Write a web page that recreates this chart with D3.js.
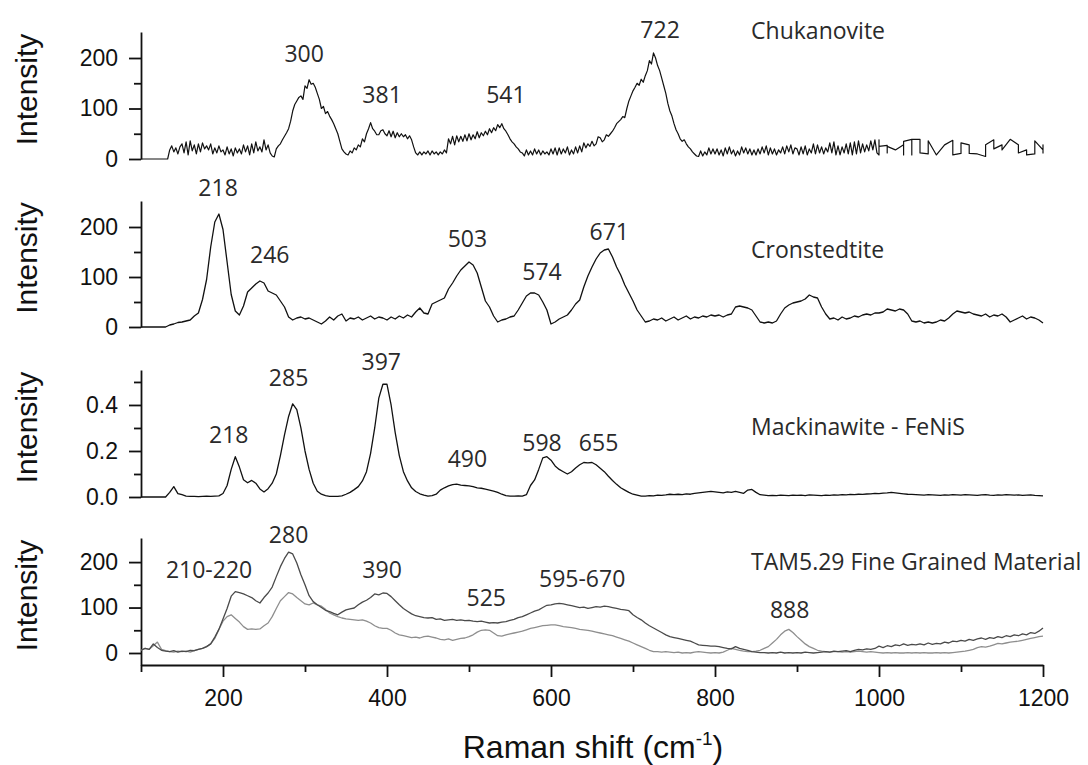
<!DOCTYPE html>
<html>
<head>
<meta charset="utf-8">
<script src="https://cdn.jsdelivr.net/npm/d3@7"></script>
<style>
  body { margin: 0; background: #fff; }
  .tick text { font-family: "Liberation Sans", Arial, sans-serif; }
</style>
</head>
<body>
<svg width="1088" height="765"></svg>
<script>
const shiftStart = 100
const shiftStep = 5
const chukanoviteStep = 2.5

// 20 values per row = 50 cm-1
const chukanovite = [
  0, 0, 0, 0, 0, 0, 0, 0, 0, 0, 0, 0, 0, 0, 18, 26, 14, 22, 10, 24,                 // 100
  30, 12, 34, 8, 36, 16, 28, 10, 30, 14, 32, 20, 26, 18, 30, 10, 22, 12, 26, 14,    // 150
  18, 8, 24, 10, 20, 6, 22, 12, 20, 10, 28, 14, 26, 8, 30, 12, 34, 16, 24, 14,      // 200
  38, 18, 28, 12, 6, 4, 20, 26, 30, 38, 45, 52, 60, 75, 95, 108, 115, 122, 125, 118, // 250
  145, 140, 157, 148, 150, 142, 130, 118, 100, 104, 90, 94, 85, 78, 70, 60, 50, 35, 20, 14, // 300
  10, 8, 16, 12, 22, 18, 28, 24, 40, 34, 50, 60, 72, 60, 55, 48, 48, 56, 58, 50,    // 350
  46, 56, 44, 55, 42, 52, 44, 50, 44, 48, 40, 46, 38, 24, 12, 8, 14, 8, 14, 10,     // 400
  16, 8, 16, 10, 14, 8, 14, 10, 18, 12, 40, 30, 45, 28, 46, 34, 45, 35, 48, 36,     // 450
  50, 38, 48, 40, 54, 42, 52, 46, 55, 48, 60, 52, 62, 56, 68, 62, 70, 60, 55, 48,   // 500
  40, 34, 30, 24, 20, 14, 12, 6, 18, 8, 16, 8, 20, 10, 18, 8, 16, 10, 14, 8,        // 550
  20, 10, 22, 8, 22, 10, 20, 12, 24, 8, 18, 10, 24, 12, 26, 14, 32, 22, 30, 25,     // 600
  35, 26, 30, 44, 42, 34, 38, 48, 45, 50, 55, 62, 70, 74, 78, 84, 82, 100, 115, 125, // 650
  135, 142, 150, 146, 158, 152, 165, 175, 195, 188, 210, 200, 185, 175, 160, 145, 130, 110, 95, 85, // 700
  70, 58, 50, 40, 35, 38, 30, 24, 20, 14, 10, 6, 5, 16, 6, 14, 8, 22, 10, 20,       // 750
  10, 20, 8, 18, 6, 22, 10, 24, 10, 18, 6, 16, 8, 24, 12, 22, 10, 20, 8, 18,        // 800
  8, 20, 10, 24, 12, 26, 8, 22, 10, 20, 8, 18, 12, 24, 10, 26, 14, 28, 10, 22,      // 850
  20, 8, 24, 10, 26, 8, 20, 12, 30, 10, 28, 12, 24, 10, 22, 14, 32, 12, 34, 8,      // 900
  26, 8, 24, 12, 30, 10, 32, 8, 34, 10, 36, 12, 30, 14, 28, 16, 36, 18, 38, 12      // 950
]
// coarse stepped part of the chukanovite trace above 1000 cm-1
const chukanoviteTailShift = [1000, 1000, 1000, 1010, 1010, 1010, 1020, 1030, 1030, 1030, 1040, 1040, 1040, 1050, 1050, 1060, 1060, 1070, 1080, 1090, 1090, 1100, 1100, 1110, 1110, 1120, 1130, 1130, 1140, 1140, 1150, 1150, 1160, 1170, 1170, 1180, 1180, 1190, 1190, 1200, 1200, 1200]
const chukanoviteTailIntensity = [8, 38, 25, 27, 12, 25, 18, 28, 8, 35, 39, 8, 39, 39, 12, 10, 36, 8, 28, 37, 8, 11, 32, 28, 11, 10, 5, 28, 38, 20, 28, 18, 39, 28, 12, 18, 8, 10, 36, 18, 28, 11]

// 10 values per row = 50 cm-1
const cronstedtite = [
  0, 0, 0, 0, 0, 0, 0, 4, 6, 9,               // 100
  10, 12, 14, 22, 28, 55, 95, 160, 210, 226,  // 150
  195, 130, 65, 32, 24, 42, 70, 78, 86, 92,   // 200
  88, 72, 68, 64, 52, 40, 20, 14, 18, 20,     // 250
  16, 18, 14, 10, 6, 12, 20, 14, 22, 26,      // 300
  12, 18, 16, 20, 14, 18, 22, 16, 20, 18,     // 350
  14, 20, 16, 22, 18, 24, 20, 30, 38, 28,     // 400
  26, 46, 50, 54, 58, 76, 88, 102, 114, 122,  // 450
  130, 124, 108, 80, 52, 40, 22, 10, 14, 16,  // 500
  20, 22, 34, 48, 62, 68, 68, 64, 50, 34,     // 550
  6, 10, 16, 20, 24, 34, 46, 54, 80, 102,     // 600
  120, 136, 148, 154, 156, 140, 120, 104, 84, 68, // 650
  52, 34, 22, 10, 12, 16, 14, 18, 12, 16,     // 700
  20, 14, 18, 22, 16, 20, 18, 22, 20, 24,     // 750
  22, 24, 20, 24, 26, 40, 42, 40, 38, 34,     // 800
  22, 10, 8, 10, 8, 12, 26, 38, 44, 48,       // 850
  50, 52, 56, 64, 60, 58, 40, 26, 16, 18,     // 900
  14, 20, 16, 18, 22, 20, 24, 26, 24, 28,     // 950
  28, 30, 36, 34, 32, 36, 34, 26, 12, 10,     // 1000
  12, 8, 10, 8, 10, 14, 12, 18, 26, 32,       // 1050
  30, 28, 30, 26, 24, 22, 26, 20, 24, 22,     // 1100
  26, 20, 10, 14, 18, 22, 16, 20, 18, 14,     // 1150
  8                                           // 1200
]

const mackinawite = [
  0, 0, 0, 0, 0, 0, 0, 0.02, 0.045, 0.015,                       // 100
  0.01, 0.004, 0.003, 0.003, 0.002, 0.003, 0.004, 0.003, 0.004, 0.005, // 150
  0.015, 0.05, 0.12, 0.175, 0.13, 0.075, 0.062, 0.072, 0.06, 0.035,   // 200
  0.022, 0.036, 0.06, 0.1, 0.18, 0.27, 0.35, 0.405, 0.38, 0.3,        // 250
  0.2, 0.12, 0.06, 0.025, 0.012, 0.006, 0.003, 0.003, 0.003, 0.005,   // 300
  0.012, 0.02, 0.032, 0.045, 0.07, 0.11, 0.19, 0.3, 0.43, 0.49,       // 350
  0.49, 0.4, 0.28, 0.18, 0.11, 0.07, 0.04, 0.024, 0.014, 0.008,       // 400
  0.004, 0.006, 0.012, 0.03, 0.04, 0.048, 0.054, 0.056, 0.052, 0.05,  // 450
  0.048, 0.045, 0.04, 0.038, 0.034, 0.03, 0.026, 0.02, 0.012, 0.006,  // 500
  0.004, 0.004, 0.005, 0.004, 0.01, 0.05, 0.074, 0.12, 0.17, 0.175,   // 550
  0.16, 0.135, 0.12, 0.11, 0.1, 0.11, 0.126, 0.14, 0.15, 0.148,       // 600
  0.15, 0.14, 0.125, 0.11, 0.09, 0.072, 0.055, 0.04, 0.03, 0.02,      // 650
  0.012, 0.008, 0.004, 0.004, 0.006, 0.005, 0.008, 0.007, 0.009, 0.012, // 700
  0.01, 0.012, 0.01, 0.014, 0.012, 0.016, 0.018, 0.02, 0.022, 0.024,  // 750
  0.022, 0.02, 0.018, 0.022, 0.02, 0.024, 0.02, 0.016, 0.03, 0.033,   // 800
  0.02, 0.01, 0.008, 0.006, 0.007, 0.006, 0.008, 0.007, 0.006, 0.008, // 850
  0.007, 0.008, 0.006, 0.009, 0.008, 0.007, 0.006, 0.008, 0.007, 0.009, // 900
  0.008, 0.01, 0.009, 0.011, 0.01, 0.012, 0.011, 0.013, 0.014, 0.016, // 950
  0.015, 0.017, 0.018, 0.02, 0.018, 0.016, 0.014, 0.012, 0.011, 0.01, // 1000
  0.009, 0.008, 0.01, 0.009, 0.008, 0.007, 0.009, 0.008, 0.01, 0.009, // 1050
  0.008, 0.01, 0.009, 0.008, 0.007, 0.009, 0.01, 0.008, 0.007, 0.009, // 1100
  0.008, 0.01, 0.009, 0.008, 0.009, 0.007, 0.008, 0.009, 0.007, 0.006, // 1150
  0.005                                                               // 1200
]

// TAM5.29, two spots (dark and light trace)
const tamDark = [
  6, 10, 8, 20, 12, 6, 4, 3, 5, 2,            // 100
  4, 3, 6, 5, 8, 10, 14, 20, 35, 52,          // 150
  75, 98, 125, 135, 133, 130, 126, 122, 115, 110, // 200
  122, 132, 145, 168, 190, 208, 222, 218, 198, 172, // 250
  150, 126, 113, 106, 100, 94, 91, 87, 84, 90, // 300
  95, 97, 99, 106, 112, 116, 122, 130, 128, 132, // 350
  131, 124, 115, 106, 98, 92, 86, 82, 80, 78, // 400
  77, 78, 74, 75, 72, 73, 74, 72, 73, 71,     // 450
  72, 70, 69, 70, 68, 66, 67, 66, 68, 69,     // 500
  72, 74, 78, 80, 84, 88, 92, 95, 100, 105,   // 550
  106, 108, 109, 108, 106, 104, 102, 100, 101, 98, // 600
  100, 102, 101, 103, 102, 100, 98, 96, 95, 93, // 650
  84, 78, 73, 66, 60, 55, 50, 45, 40, 36,     // 700
  34, 32, 30, 28, 26, 22, 18, 17, 16, 15,     // 750
  15, 14, 12, 10, 9, 14, 10, 8, 6, 3,         // 800
  2, 1, 1, 0, 1, 0, 2, 0, 1, 0,               // 850
  1, 0, 2, 1, 0, 1, 2, 3, 2, 4,               // 900
  3, 4, 5, 3, 6, 8, 7, 9, 8, 10,              // 950
  15, 12, 16, 14, 18, 16, 20, 17, 19, 18,     // 1000
  20, 18, 22, 19, 21, 20, 24, 22, 26, 25,     // 1050
  28, 26, 30, 28, 31, 33, 30, 34, 32, 36,     // 1100
  34, 38, 36, 40, 38, 42, 40, 45, 43, 48,     // 1150
  55                                          // 1200
]
const tamLight = [
  6, 10, 8, 16, 24, 8, 5, 3, 2, 4,            // 100
  3, 4, 2, 5, 8, 10, 14, 20, 32, 52,          // 150
  70, 80, 84, 76, 68, 58, 52, 53, 52, 53,     // 200
  60, 66, 80, 98, 115, 124, 133, 130, 122, 115, // 250
  108, 106, 110, 106, 103, 96, 88, 84, 80, 77, // 300
  75, 74, 73, 72, 73, 70, 66, 60, 56, 54,     // 350
  54, 50, 44, 40, 38, 36, 34, 35, 33, 36,     // 400
  37, 35, 33, 30, 29, 31, 28, 30, 32, 33,     // 450
  36, 40, 46, 50, 51, 50, 44, 38, 37, 40,     // 500
  42, 44, 46, 48, 51, 54, 56, 58, 60, 61,     // 550
  62, 62, 60, 58, 57, 56, 54, 52, 51, 50,     // 600
  48, 46, 44, 42, 40, 38, 35, 32, 29, 26,     // 650
  22, 18, 14, 10, 6, 3, 3, 2, 3, 2,           // 700
  1, 2, 0, 1, 0, 2, 3, 2, 1, 0,               // 750
  1, 0, 2, 6, 10, 8, 6, 4, 3, 3,              // 800
  4, 6, 10, 14, 22, 30, 40, 48, 52, 45,       // 850
  36, 28, 20, 14, 10, 6, 4, 3, 2, 3,          // 900
  3, 2, 3, 2, 3, 4, 3, 2, 3, 2,               // 950
  1, 0, 1, 0, 1, 0, 0, 1, 0, 1,               // 1000
  0, 1, 0, 0, 1, 0, 1, 0, 1, 2,               // 1050
  3, 4, 6, 8, 12, 14, 13, 15, 18, 21,         // 1100
  20, 22, 24, 25, 26, 28, 30, 32, 34, 36,     // 1150
  37                                          // 1200
]

const panelNames = ["Chukanovite", "Cronstedtite", "Mackinawite - FeNiS", "TAM5.29 Fine Grained Material"]
const nameShift = 844
const nameIntensity = [238, 138, 0.27, 182]

// peak annotations: [text, shift, intensity at text baseline]
const chukanovitePeaks = [["300", 299, 192], ["381", 394, 111], ["541", 545, 111], ["722", 733, 240]]
const cronstedtitePeaks = [["218", 194, 262], ["246", 257, 128], ["503", 498, 160], ["574", 589, 94], ["671", 671, 174]]
const mackinawitePeaks = [["218", 207, 0.235], ["285", 280, 0.483], ["397", 393, 0.552], ["490", 498, 0.13], ["598", 589, 0.2], ["655", 658, 0.2]]
const tamPeaks = [["210-220", 183, 165], ["280", 280, 242], ["390", 394, 165], ["525", 521, 103], ["595-670", 638, 145], ["888", 891, 77]]

const xMajorTicks = [200, 400, 600, 800, 1000, 1200]
const xMinorTicks = [100, 300, 500, 700, 900, 1100]

const onGrid = (values, step) => values.map((v, i) => [shiftStart + i * step, v])

const chukanovitePoints = onGrid(chukanovite, chukanoviteStep)
  .concat(chukanoviteTailShift.map((s, i) => [s, chukanoviteTailIntensity[i]]))

const panels = [
  { series: [{ points: chukanovitePoints, color: '#111', width: 1.2 }], domain: [0, 251.5], range: [159, 32],
    major: [0, 100, 200], minor: [50, 150], fmt: d3.format('d'), peaks: chukanovitePeaks },
  { series: [{ points: onGrid(cronstedtite, shiftStep), color: '#111', width: 1.3 }], domain: [0, 252], range: [327, 201],
    major: [0, 100, 200], minor: [50, 150], fmt: d3.format('d'), peaks: cronstedtitePeaks },
  { series: [{ points: onGrid(mackinawite, shiftStep), color: '#111', width: 1.3 }], domain: [0, 0.552], range: [497, 370],
    major: [0, 0.2, 0.4], minor: [0.1, 0.3, 0.5], fmt: d3.format('.1f'), peaks: mackinawitePeaks },
  { series: [{ points: onGrid(tamLight, shiftStep), color: '#8e8e8e', width: 1.3 },
             { points: onGrid(tamDark, shiftStep), color: '#4a4a4a', width: 1.3 }],
    domain: [-26.4, 253], range: [665, 538],
    major: [0, 100, 200], minor: [50, 150], fmt: d3.format('d'), peaks: tamPeaks }
]

const svg = d3.select('svg')
const x = d3.scaleLinear().domain([100, 1200]).range([141, 1043])
const axisLeftX = 141
const labelFont = '"Open Sans", "Noto Sans", sans-serif'

panels.forEach((p, k) => {
  const y = d3.scaleLinear().domain(p.domain).range(p.range)
  const g = svg.append('g')

  // minor ticks first, then labelled major ticks with the axis line
  g.append('g')
    .attr('transform', `translate(${axisLeftX},0)`)
    .call(d3.axisLeft(y).tickValues(p.minor).tickSize(7).tickFormat(''))
    .call(a => a.select('.domain').remove())
  g.append('g')
    .attr('transform', `translate(${axisLeftX},0)`)
    .call(d3.axisLeft(y).tickValues(p.major).tickSize(12).tickSizeOuter(0).tickPadding(11).tickFormat(p.fmt))
    .call(a => a.selectAll('text').attr('font-size', 23).attr('fill', '#111'))

  g.selectAll('.tick line, .domain').attr('stroke', '#111').attr('stroke-width', 1.8)

  g.append('text')
    .attr('transform', `translate(37,${(p.range[0] + p.range[1]) / 2 - 6}) rotate(-90)`)
    .attr('text-anchor', 'middle')
    .attr('font-family', '"Liberation Sans", Arial, sans-serif')
    .attr('font-size', 30)
    .attr('fill', '#111')
    .text('Intensity')

  const line = d3.line().x(d => x(d[0])).y(d => y(d[1]))
  p.series.forEach(s => {
    g.append('path')
      .datum(s.points)
      .attr('d', line)
      .attr('fill', 'none')
      .attr('stroke', s.color)
      .attr('stroke-width', s.width)
      .attr('stroke-linejoin', 'round')
  })

  g.selectAll('.peak')
    .data(p.peaks)
    .enter()
    .append('text')
    .attr('x', d => x(d[1]))
    .attr('y', d => y(d[2]))
    .attr('text-anchor', 'middle')
    .attr('font-family', labelFont)
    .attr('font-size', 23)
    .attr('fill', '#2a2a2a')
    .text(d => d[0])

  g.append('text')
    .attr('x', x(nameShift))
    .attr('y', y(nameIntensity[k]))
    .attr('font-family', labelFont)
    .attr('font-size', 23)
    .attr('fill', '#2a2a2a')
    .text(panelNames[k])
})

// shared Raman shift axis under the last panel
const axisY = 665
svg.append('g')
  .attr('transform', `translate(0,${axisY})`)
  .call(d3.axisBottom(x).tickValues(xMinorTicks).tickSize(7).tickFormat(''))
  .call(a => a.select('.domain').remove())
svg.append('g')
  .attr('transform', `translate(0,${axisY})`)
  .call(d3.axisBottom(x).tickValues(xMajorTicks).tickSize(12).tickSizeOuter(0).tickPadding(13).tickFormat(d3.format('d')))
  .call(a => a.selectAll('text').attr('font-size', 23).attr('fill', '#111'))
svg.selectAll('.tick line, .domain').attr('stroke', '#111').attr('stroke-width', 1.8)

const title = svg.append('text')
  .attr('x', 593)
  .attr('y', 758)
  .attr('text-anchor', 'middle')
  .attr('font-family', '"Liberation Sans", Arial, sans-serif')
  .attr('font-size', 32)
  .attr('fill', '#111')
title.append('tspan').text('Raman shift (cm')
title.append('tspan').attr('font-size', 19).attr('dy', -13).text('-1')
title.append('tspan').attr('dy', 13).text(')')
</script>
</body>
</html>
